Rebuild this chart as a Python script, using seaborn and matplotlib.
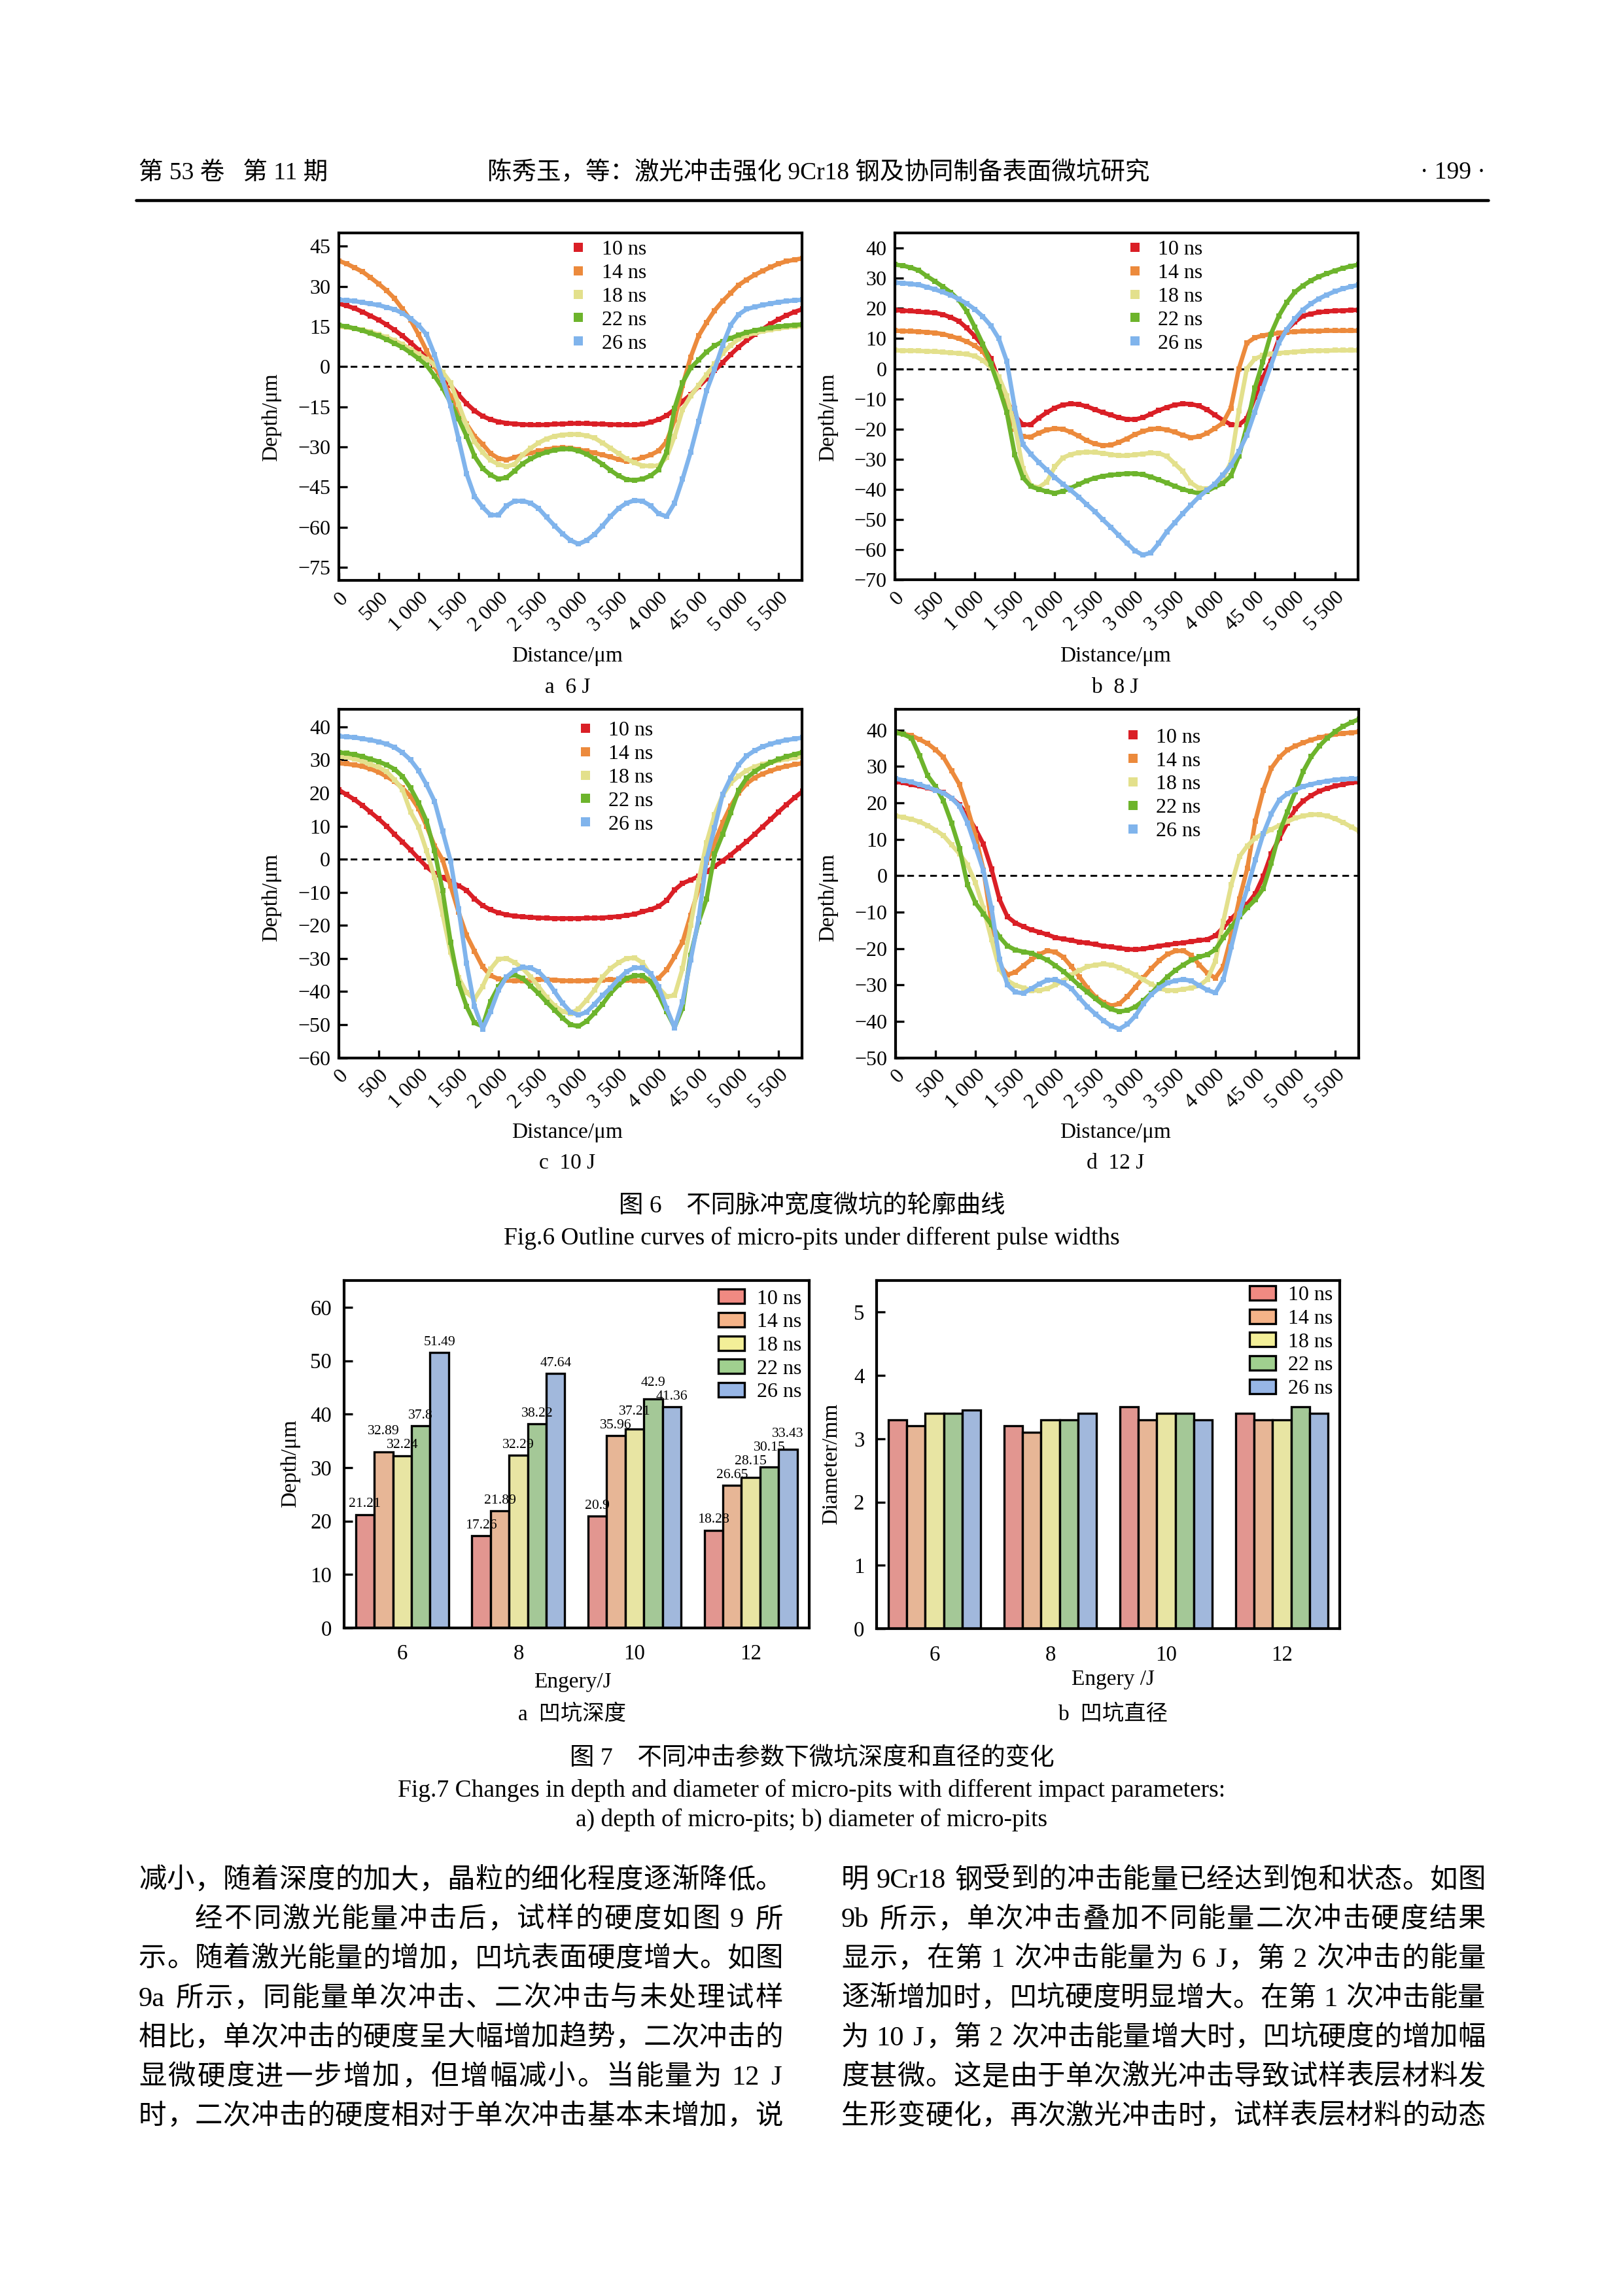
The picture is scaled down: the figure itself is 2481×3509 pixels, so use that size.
import re
import pandas as pd
import matplotlib
matplotlib.use("Agg")
import matplotlib.pyplot as plt
from matplotlib.lines import Line2D
from matplotlib.patches import Patch
import seaborn as sns

# ---------------------------------------------------------------- data
pulse_widths = ["10 ns", "14 ns", "18 ns", "22 ns", "26 ns"]
distance_um = list(range(0, 5801, 100))
distance_ticks = [0, 500, 1000, 1500, 2000, 2500, 3000, 3500, 4000, 4500, 5000, 5500]
distance_tick_labels = ["0", "500", "1 000", "1 500", "2 000", "2 500", "3 000",
                        "3 500", "4 000", "45 00", "5 000", "5 500"]

# Fig.6a  6 J
depth_6J_10ns = [23.6, 22.8, 21.8, 20.5, 19.0, 17.5, 15.7, 13.7, 11.5, 9.0, 6.3, 3.3, 0.2, -3.5, -7.0, -10.5, -13.8, -16.5, -18.5, -19.8, -20.6, -21.1, -21.4, -21.6, -21.8, -21.8, -21.7, -21.5, -21.4, -21.3, -21.2, -21.3, -21.4, -21.5, -21.6, -21.7, -21.8, -21.8, -21.5, -20.8, -19.8, -18.3, -16.0, -13.0, -10.5, -7.5, -4.5, -1.5, 1.5, 4.5, 7.3, 9.8, 12.0, 14.0, 16.0, 17.7, 19.2, 20.5, 21.5]
depth_6J_14ns = [39.6, 38.5, 37.0, 35.5, 33.3, 31.0, 28.5, 25.5, 21.5, 17.5, 12.0, 6.0, 0.0, -5.0, -11.0, -16.0, -21.5, -26.0, -29.0, -32.5, -34.3, -34.8, -34.0, -33.0, -32.3, -31.6, -31.0, -30.5, -30.3, -30.5, -31.0, -31.6, -32.3, -33.0, -33.8, -34.7, -35.4, -35.0, -34.0, -33.0, -31.5, -28.0, -20.0, -7.0, 3.5, 11.5, 16.5, 21.0, 24.5, 27.5, 30.5, 32.5, 34.3, 35.8, 37.2, 38.5, 39.4, 40.0, 40.5]
depth_6J_18ns = [15.0, 14.7, 14.3, 13.7, 13.0, 12.0, 11.0, 9.8, 8.3, 6.5, 4.7, 2.8, 0.8, -2.0, -6.0, -14.0, -22.0, -28.0, -32.0, -35.0, -36.5, -37.3, -36.5, -33.0, -30.5, -28.5, -27.0, -26.0, -25.5, -25.3, -25.3, -25.8, -26.7, -28.5, -30.5, -32.5, -34.5, -36.0, -37.0, -37.2, -37.0, -34.0, -26.0, -16.0, -11.0, -7.0, -3.0, 1.0, 5.0, 8.0, 10.3, 11.7, 12.6, 13.2, 13.8, 14.3, 14.7, 15.0, 15.2]
depth_6J_22ns = [15.5, 15.0, 14.3, 13.5, 12.5, 11.5, 10.2, 8.7, 7.2, 5.2, 3.0, 0.5, -3.5, -8.0, -13.5, -19.5, -26.0, -33.5, -38.0, -40.5, -42.0, -41.5, -39.0, -36.3, -34.5, -33.0, -32.0, -31.2, -30.8, -30.8, -31.5, -32.7, -34.5, -36.5, -38.8, -40.8, -42.2, -42.5, -42.0, -40.8, -38.5, -32.0, -15.5, -6.0, -0.5, 2.5, 5.5, 7.8, 9.4, 10.6, 11.8, 12.8, 13.5, 14.1, 14.6, 15.0, 15.3, 15.6, 15.8]
depth_6J_26ns = [25.0, 24.8, 24.5, 24.0, 23.5, 23.0, 22.2, 21.4, 20.0, 18.0, 15.5, 12.0, 4.5, -5.0, -14.5, -27.0, -40.0, -48.5, -52.5, -55.5, -55.5, -52.0, -50.3, -50.2, -51.0, -53.0, -56.3, -59.5, -62.5, -65.0, -66.3, -65.0, -62.7, -59.5, -56.0, -53.0, -51.0, -50.0, -50.3, -52.0, -55.0, -56.0, -51.0, -42.0, -32.0, -20.5, -9.0, -1.0, 8.0, 15.5, 19.5, 21.5, 22.3, 23.0, 23.6, 24.1, 24.5, 24.8, 25.0]

# Fig.6b  8 J
depth_8J_10ns = [19.4, 19.3, 19.1, 18.9, 18.7, 18.5, 18.0, 17.0, 15.8, 13.5, 10.8, 7.6, 3.3, -3.8, -10.5, -15.5, -18.5, -18.5, -16.3, -14.5, -13.0, -12.0, -11.6, -11.8, -12.5, -13.5, -14.5, -15.3, -16.2, -16.7, -16.8, -16.2, -15.0, -13.8, -12.8, -12.0, -11.6, -11.7, -12.3, -13.5, -15.3, -17.0, -18.5, -18.6, -16.5, -9.5, -3.0, 2.5, 9.8, 13.0, 15.5, 17.5, 18.2, 18.7, 19.0, 19.2, 19.3, 19.4, 19.5]
depth_8J_14ns = [12.6, 12.5, 12.4, 12.3, 12.1, 11.9, 11.5, 10.8, 10.0, 9.0, 7.6, 5.8, 1.5, -4.5, -13.0, -20.0, -22.5, -22.6, -21.3, -20.3, -19.8, -20.0, -21.0, -22.3, -23.8, -24.9, -25.4, -25.3, -24.4, -23.2, -21.8, -20.8, -20.0, -19.8, -20.2, -21.0, -22.0, -22.8, -22.5, -21.4, -19.8, -18.0, -13.0, 0.0, 8.5, 10.3, 11.0, 11.5, 11.8, 12.1, 12.3, 12.4, 12.5, 12.5, 12.6, 12.6, 12.6, 12.6, 12.6]
depth_8J_18ns = [6.1, 6.0, 6.0, 5.9, 5.8, 5.7, 5.5, 5.3, 5.1, 4.8, 4.2, 2.8, 0.5, -2.7, -9.0, -19.0, -33.0, -38.8, -39.3, -37.5, -32.5, -29.5, -28.4, -27.8, -27.6, -27.7, -28.0, -28.4, -28.8, -28.8, -28.5, -28.2, -27.9, -28.0, -29.0, -31.5, -34.0, -37.8, -39.5, -39.8, -39.2, -36.5, -31.0, -14.0, 0.0, 3.3, 4.4, 4.9, 5.2, 5.4, 5.6, 5.8, 5.9, 6.0, 6.0, 6.1, 6.1, 6.1, 6.1]
depth_8J_22ns = [34.5, 34.2, 33.5, 32.6, 30.7, 29.0, 27.2, 25.3, 22.8, 19.0, 13.8, 8.2, 1.6, -6.0, -14.5, -28.5, -36.0, -39.0, -39.9, -40.7, -41.2, -40.6, -39.5, -38.3, -37.1, -36.2, -35.6, -35.2, -35.0, -34.7, -34.7, -35.1, -35.8, -36.8, -37.8, -38.9, -39.9, -40.7, -41.3, -40.6, -39.2, -38.0, -35.5, -29.0, -19.0, -6.4, 2.3, 11.5, 17.5, 22.0, 25.4, 27.5, 29.2, 30.5, 31.5, 32.5, 33.3, 34.0, 34.5]
depth_8J_26ns = [28.5, 28.4, 28.1, 27.8, 27.1, 26.3, 25.4, 24.4, 23.1, 21.6, 19.7, 17.3, 14.3, 10.0, 2.5, -13.0, -25.0, -28.3, -31.0, -33.5, -36.0, -38.2, -40.3, -42.5, -45.0, -47.3, -50.0, -52.5, -55.2, -57.8, -60.3, -61.7, -61.0, -57.8, -54.0, -51.0, -48.0, -45.2, -42.5, -40.3, -38.2, -35.2, -32.0, -27.5, -22.0, -14.3, -6.5, 1.0, 8.5, 13.0, 16.5, 19.5, 21.5, 23.2, 24.5, 25.6, 26.5, 27.2, 27.8]

# Fig.6c  10 J
depth_10J_10ns = [21.0, 19.5, 18.0, 16.2, 14.2, 12.2, 10.0, 7.5, 5.2, 2.8, 0.2, -2.3, -4.3, -5.6, -6.8, -8.0, -9.4, -12.0, -14.0, -15.3, -16.2, -16.8, -17.2, -17.4, -17.6, -17.7, -17.8, -17.9, -17.9, -17.9, -17.9, -17.8, -17.8, -17.7, -17.5, -17.3, -17.0, -16.6, -15.9, -15.2, -14.3, -12.5, -9.3, -7.3, -6.3, -5.2, -3.8, -2.2, -0.5, 1.3, 3.3, 5.3, 7.5, 9.8, 12.0, 14.3, 16.5, 18.6, 20.5]
depth_10J_14ns = [29.0, 28.8, 28.5, 28.0, 27.3, 26.3, 25.0, 23.5, 21.5, 19.0, 15.3, 10.0, 4.0, -0.2, -8.0, -16.0, -23.0, -27.8, -32.5, -35.2, -36.2, -36.6, -36.8, -36.7, -36.5, -36.4, -36.4, -36.5, -36.7, -36.8, -36.8, -36.7, -36.6, -36.5, -36.4, -36.4, -36.5, -36.7, -36.8, -36.6, -36.0, -33.5, -29.5, -25.0, -17.0, -9.0, -1.0, 5.0, 11.0, 16.0, 20.0, 22.8, 24.6, 25.8, 26.7, 27.5, 28.1, 28.6, 29.0]
depth_10J_18ns = [31.0, 30.8, 30.3, 29.6, 28.6, 27.8, 26.5, 24.0, 21.0, 14.3, 9.8, 2.5, -5.5, -16.5, -28.0, -35.8, -40.3, -42.3, -38.5, -33.2, -30.2, -30.0, -31.2, -33.0, -35.5, -38.5, -41.7, -44.3, -46.0, -46.6, -45.3, -42.6, -39.5, -35.6, -33.0, -31.3, -30.0, -29.8, -31.3, -35.0, -38.8, -41.5, -41.2, -33.0, -20.0, -6.5, 5.0, 13.5, 19.3, 23.0, 25.1, 26.8, 27.9, 28.7, 29.3, 29.8, 30.2, 30.7, 31.1]
depth_10J_22ns = [32.3, 32.0, 31.6, 31.0, 30.2, 29.5, 28.5, 27.2, 25.0, 21.5, 17.0, 11.5, 2.5, -9.5, -25.0, -37.5, -44.5, -49.5, -50.5, -43.0, -38.5, -35.5, -35.0, -36.0, -38.3, -40.6, -43.2, -45.6, -48.0, -50.0, -50.5, -49.0, -46.5, -43.8, -40.5, -38.0, -36.0, -35.2, -35.2, -37.0, -41.0, -46.0, -50.8, -45.0, -29.0, -19.0, -12.0, 1.5, 7.5, 14.0, 20.8, 24.5, 26.5, 28.0, 29.2, 30.2, 31.0, 31.7, 32.3]
depth_10J_26ns = [37.1, 37.0, 36.8, 36.4, 36.0, 35.5, 34.8, 33.8, 32.2, 30.0, 26.8, 22.5, 17.5, 8.5, -0.5, -15.0, -31.5, -44.5, -51.3, -46.0, -39.5, -35.6, -33.6, -32.7, -32.9, -34.0, -36.5, -40.0, -43.5, -46.2, -47.1, -46.2, -43.8, -41.2, -38.9, -36.2, -34.0, -32.8, -32.9, -34.5, -38.5, -45.0, -51.0, -43.0, -30.5, -18.0, 0.0, 9.5, 19.5, 24.5, 28.5, 31.2, 32.8, 34.0, 34.8, 35.5, 36.0, 36.4, 36.7]

# Fig.6d  12 J
depth_12J_10ns = [25.8, 25.5, 25.0, 24.6, 24.1, 23.5, 22.8, 21.3, 19.5, 16.5, 12.8, 8.6, 1.8, -6.5, -11.3, -13.0, -14.0, -14.9, -15.5, -16.2, -17.0, -17.4, -17.8, -18.2, -18.5, -18.9, -19.3, -19.6, -19.9, -20.2, -20.3, -20.1, -19.7, -19.3, -19.0, -18.7, -18.4, -18.1, -17.8, -17.5, -16.5, -14.2, -11.8, -9.6, -7.8, -5.0, -0.2, 6.0, 10.3, 14.5, 18.3, 20.5, 22.0, 23.2, 24.0, 24.6, 25.1, 25.5, 25.8]
depth_12J_14ns = [39.3, 38.9, 38.5, 37.4, 36.3, 34.6, 32.5, 28.8, 25.0, 18.5, 11.0, 1.5, -13.0, -24.5, -27.2, -26.5, -24.7, -23.0, -21.6, -20.6, -21.0, -22.4, -25.0, -27.8, -30.8, -33.3, -34.8, -35.7, -35.2, -33.2, -30.6, -28.0, -25.5, -23.3, -21.6, -20.7, -20.6, -21.9, -24.5, -26.8, -28.1, -25.0, -16.5, -6.5, 2.0, 15.0, 23.5, 29.5, 32.5, 34.5, 35.6, 36.5, 37.3, 37.9, 38.4, 38.8, 39.1, 39.3, 39.5]
depth_12J_18ns = [16.4, 16.0, 15.5, 14.8, 13.8, 12.5, 11.0, 8.5, 6.0, 3.0, -2.0, -9.0, -17.5, -25.7, -28.8, -30.1, -30.8, -31.5, -31.5, -31.0, -30.0, -28.8, -27.2, -26.0, -25.0, -24.5, -24.3, -24.5, -25.2, -26.2, -27.3, -28.6, -29.8, -31.0, -31.5, -31.5, -31.2, -30.8, -30.2, -28.5, -23.5, -12.5, -2.5, 5.2, 8.2, 10.3, 11.6, 12.7, 13.8, 14.9, 15.8, 16.4, 16.8, 16.8, 16.4, 15.6, 14.6, 13.4, 12.2]
depth_12J_22ns = [39.3, 38.8, 37.8, 33.0, 27.5, 24.5, 20.5, 14.5, 7.5, -2.5, -7.5, -10.5, -13.5, -16.8, -19.3, -20.4, -20.9, -21.3, -22.2, -23.2, -24.7, -26.3, -28.2, -30.2, -32.0, -33.8, -35.5, -36.7, -37.3, -37.0, -36.0, -34.3, -32.3, -30.0, -27.8, -26.0, -24.5, -23.2, -22.3, -21.7, -20.3, -17.0, -14.0, -11.3, -8.8, -6.6, -3.5, 3.5, 11.8, 17.5, 23.0, 28.7, 32.7, 35.6, 37.8, 39.6, 41.0, 42.1, 43.0]
depth_12J_26ns = [26.6, 26.2, 25.7, 25.0, 24.3, 23.5, 22.7, 21.3, 19.1, 14.5, 8.0, 1.3, -9.0, -23.0, -30.0, -32.0, -32.3, -31.0, -29.7, -28.7, -28.6, -29.5, -31.0, -33.6, -36.0, -38.0, -39.8, -41.3, -42.1, -40.8, -38.5, -35.2, -32.6, -30.8, -29.5, -28.8, -28.5, -28.9, -30.2, -31.4, -32.2, -28.5, -19.5, -10.5, -3.5, 4.3, 11.5, 17.0, 20.8, 22.5, 23.6, 24.5, 25.1, 25.6, 26.0, 26.3, 26.5, 26.6, 26.6]

# Fig.7
energy_labels = ["6", "8", "10", "12"]
pit_depth_10ns = [21.21, 17.26, 20.9, 18.28]
pit_depth_14ns = [32.89, 21.89, 35.96, 26.65]
pit_depth_18ns = [32.24, 32.29, 37.21, 28.15]
pit_depth_22ns = [37.8, 38.22, 42.9, 30.15]
pit_depth_26ns = [51.49, 47.64, 41.36, 33.43]
pit_diam_10ns = [3.3, 3.2, 3.5, 3.4]
pit_diam_14ns = [3.2, 3.1, 3.3, 3.3]
pit_diam_18ns = [3.4, 3.3, 3.4, 3.3]
pit_diam_22ns = [3.4, 3.3, 3.4, 3.5]
pit_diam_26ns = [3.45, 3.4, 3.3, 3.4]

line_colors = ["#DA1F26", "#EC8A3C", "#E3E08C", "#6DB42C", "#80B4EC"]
bar_colors = ["#F08A82", "#F5B388", "#F3EF98", "#A0D08F", "#97B6E6"]

# ---------------------------------------------------------------- style
sns.set_style("ticks")
plt.rcParams["font.family"] = ["Liberation Serif", "Noto Sans CJK SC"]
plt.rcParams["axes.unicode_minus"] = True
for k in ["text.color", "axes.labelcolor", "xtick.color", "ytick.color", "axes.edgecolor"]:
    plt.rcParams[k] = "black"

W, H = 2481, 3509
fig = plt.figure(figsize=(W / 300, H / 300), dpi=300)
renderer = fig.canvas.get_renderer()


def rect(l, t, r, b):
    return [l / W, 1 - b / H, (r - l) / W, (b - t) / H]


def ftext(x, y, s, **kw):
    return fig.text(x / W, 1 - y / H, s, **kw)


def style_axes(ax):
    for sp in ax.spines.values():
        sp.set_visible(True)
        sp.set_linewidth(1.0)
        sp.set_color("black")


def minus_labels(vals):
    return [str(v).replace("-", "\u2212") for v in vals]


# ---------------------------------------------------------------- Fig.6 profiles
profile_panels = [
    (rect(517.5, 356, 1225.7, 887.3),
     [depth_6J_10ns, depth_6J_14ns, depth_6J_18ns, depth_6J_22ns, depth_6J_26ns],
     (-80, 50), [45, 30, 15, 0, -15, -30, -45, -60, -75], (0.50, 0.98)),
    (rect(1367.8, 356, 2076, 886.4),
     [depth_8J_10ns, depth_8J_14ns, depth_8J_18ns, depth_8J_22ns, depth_8J_26ns],
     (-70, 45), [40, 30, 20, 10, 0, -10, -20, -30, -40, -50, -60, -70], (0.50, 0.98)),
    (rect(517.5, 1084, 1225.7, 1616.5),
     [depth_10J_10ns, depth_10J_14ns, depth_10J_18ns, depth_10J_22ns, depth_10J_26ns],
     (-60, 45.3), [40, 30, 20, 10, 0, -10, -20, -30, -40, -50, -60], (0.515, 0.967)),
    (rect(1369, 1084, 2076.6, 1616.5),
     [depth_12J_10ns, depth_12J_14ns, depth_12J_18ns, depth_12J_22ns, depth_12J_26ns],
     (-50, 45.7), [40, 30, 20, 10, 0, -10, -20, -30, -40, -50], (0.495, 0.947)),
]

for pos, series, ylim, yticks, leg_anchor in profile_panels:
    ax = fig.add_axes(pos)
    rows = []
    for label, vals in zip(pulse_widths, series):
        for d, v in zip(distance_um, vals):
            rows.append({"Distance": d, "Depth": v, "Pulse": label})
    df = pd.DataFrame(rows)
    ax.axhline(0, color="black", lw=0.7, ls=(0, (3.5, 2.5)), zorder=1)
    sns.lineplot(data=df, x="Distance", y="Depth", hue="Pulse", hue_order=pulse_widths,
                 palette=dict(zip(pulse_widths, line_colors)), estimator=None, sort=False,
                 marker="s", markersize=2.0, markeredgewidth=0, linewidth=1.6,
                 legend=False, ax=ax, zorder=2)
    ax.set_xlim(0, 5790)
    ax.set_ylim(*ylim)
    ax.set_xticks(distance_ticks)
    ax.set_xticklabels(distance_tick_labels, rotation=45, ha="right", va="top",
                       rotation_mode="anchor")
    ax.set_yticks(yticks)
    ax.set_yticklabels(minus_labels(yticks))
    ax.tick_params(direction="in", length=3, width=0.8, labelsize=7.7, pad=3,
                   top=False, right=False)
    ax.set_xlabel("")
    ax.set_ylabel("")
    style_axes(ax)
    handles = [Line2D([], [], ls="none", marker="s", markersize=3.4, mec="none", mfc=c)
               for c in line_colors]
    ax.legend(handles, pulse_widths, loc="upper left", bbox_to_anchor=leg_anchor,
              frameon=False, fontsize=7.7, handlelength=0.8, handletextpad=0.7,
              labelspacing=0.2, borderpad=0, borderaxespad=0)

# axis labels and sub-captions (Fig.6)
for x, y in [(867, 1003), (1705, 1003), (867, 1731), (1705, 1731)]:
    ftext(x, y, "Distance/μm", fontsize=8, ha="center", va="center")
for x, y in [(415, 638), (1266, 638), (415, 1372), (1266, 1372)]:
    ftext(x, y, "Depth/μm", fontsize=8, ha="center", va="center", rotation=90)
for x, y, s in [(868, 1051, "a  6 J"), (1705, 1051, "b  8 J"),
                (867, 1778, "c  10 J"), (1705, 1778, "d  12 J")]:
    ftext(x, y, s, fontsize=8, ha="center", va="center")

# ---------------------------------------------------------------- Fig.7 bars
bar_panels = [
    (rect(526, 1957, 1236.5, 2488),
     [pit_depth_10ns, pit_depth_14ns, pit_depth_18ns, pit_depth_22ns, pit_depth_26ns],
     "Depth", (0, 65), [0, 10, 20, 30, 40, 50, 60], True, (0.985, 0.975)),
    (rect(1340, 1957, 2048, 2489),
     [pit_diam_10ns, pit_diam_14ns, pit_diam_18ns, pit_diam_22ns, pit_diam_26ns],
     "Diameter", (0, 5.5), [0, 1, 2, 3, 4, 5], False, (0.985, 0.985)),
]

LABEL_PAD = 1.5
for pos, series, col, ylim, yticks, show_vals, leg_anchor in bar_panels:
    ax = fig.add_axes(pos)
    rows = []
    for label, vals in zip(pulse_widths, series):
        for e, v in zip(energy_labels, vals):
            rows.append({"Energy": e, col: v, "Pulse": label})
    df = pd.DataFrame(rows)
    sns.barplot(data=df, x="Energy", y=col, hue="Pulse", order=energy_labels,
                hue_order=pulse_widths, palette=dict(zip(pulse_widths, bar_colors)),
                edgecolor="black", linewidth=0.8, width=0.8, errorbar=None,
                legend=False, ax=ax)
    ax.set_xlim(-0.5, 3.5)
    ax.set_ylim(*ylim)
    ax.set_yticks(yticks)
    ax.tick_params(axis="y", direction="in", length=3, width=0.8, labelsize=7.9, pad=4.5,
                   right=False)
    ax.tick_params(axis="x", length=0, labelsize=7.9, pad=6, top=False)
    ax.set_xlabel("")
    ax.set_ylabel("")
    style_axes(ax)
    if show_vals:
        ann_by_hue = []
        for cont, vals in zip(ax.containers, series):
            ann_by_hue.append(ax.bar_label(cont, labels=[f"{v:g}" for v in vals],
                                           padding=LABEL_PAD, fontsize=5.2))
        # lift the label of the taller bar when neighbouring labels collide
        for g in range(len(energy_labels)):
            anns = [ann_by_hue[h][g] for h in range(len(pulse_widths))]
            vals = [series[h][g] for h in range(len(pulse_widths))]
            for i in range(1, len(anns)):
                b_prev = anns[i - 1].get_window_extent(renderer)
                b_cur = anns[i].get_window_extent(renderer)
                if b_prev.overlaps(b_cur):
                    if vals[i] >= vals[i - 1]:
                        lift = (b_prev.y1 - b_cur.y0 + 2) * 72 / 300
                        ox, oy = anns[i].xyann
                        anns[i].xyann = (ox, oy + lift)
                    else:
                        lift = (b_cur.y1 - b_prev.y0 + 2) * 72 / 300
                        ox, oy = anns[i - 1].xyann
                        anns[i - 1].xyann = (ox, oy + lift)
    handles = [Patch(facecolor=c, edgecolor="black", linewidth=0.8) for c in bar_colors]
    ax.legend(handles, pulse_widths, loc="upper right", bbox_to_anchor=leg_anchor,
              frameon=False, fontsize=7.7, handlelength=1.25, handleheight=0.68,
              handletextpad=0.6, labelspacing=0.2, borderpad=0, borderaxespad=0)

ftext(444, 2237, "Depth/μm", fontsize=8, ha="center", va="center", rotation=90)
ftext(1271, 2237, "Diameter/mm", fontsize=8, ha="center", va="center", rotation=90)
ftext(875, 2571, "Engery/J", fontsize=8, ha="center", va="center")
ftext(1702, 2567, "Engery /J", fontsize=8, ha="center", va="center")
ftext(875, 2620, "a  凹坑深度", fontsize=8, ha="center", va="center")
ftext(1702, 2620, "b  凹坑直径", fontsize=8, ha="center", va="center")

# ---------------------------------------------------------------- page header / captions
ftext(212, 264, "第 53 卷   第 11 期", fontsize=9, ha="left", va="center")
ftext(745, 264, "陈秀玉，等：激光冲击强化 9Cr18 钢及协同制备表面微坑研究", fontsize=9,
      ha="left", va="center")
ftext(2271, 264, "· 199 ·", fontsize=9, ha="right", va="center")
fig.add_artist(Line2D([208 / W, 2275 / W], [1 - 306 / H, 1 - 306 / H], lw=1.1, color="black"))

ftext(1241, 1843, "图 6    不同脉冲宽度微坑的轮廓曲线", fontsize=9, ha="center", va="center")
ftext(1241, 1892, "Fig.6 Outline curves of micro-pits under different pulse widths",
      fontsize=9, ha="center", va="center")
ftext(1241, 2687, "图 7    不同冲击参数下微坑深度和直径的变化", fontsize=9, ha="center", va="center")
ftext(1241, 2736, "Fig.7 Changes in depth and diameter of micro-pits with different impact parameters:",
      fontsize=9, ha="center", va="center")
ftext(1241, 2781, "a) depth of micro-pits; b) diameter of micro-pits", fontsize=9,
      ha="center", va="center")

# ---------------------------------------------------------------- body text
body_left = [
    "减小，随着深度的加大，晶粒的细化程度逐渐降低。",
    "经不同激光能量冲击后，试样的硬度如图 9 所",
    "示。随着激光能量的增加，凹坑表面硬度增大。如图",
    "9a 所示，同能量单次冲击、二次冲击与未处理试样",
    "相比，单次冲击的硬度呈大幅增加趋势，二次冲击的",
    "显微硬度进一步增加，但增幅减小。当能量为 12 J",
    "时，二次冲击的硬度相对于单次冲击基本未增加，说",
]
body_right = [
    "明 9Cr18 钢受到的冲击能量已经达到饱和状态。如图",
    "9b 所示，单次冲击叠加不同能量二次冲击硬度结果",
    "显示，在第 1 次冲击能量为 6 J，第 2 次冲击的能量",
    "逐渐增加时，凹坑硬度明显增大。在第 1 次冲击能量",
    "为 10 J，第 2 次冲击能量增大时，凹坑硬度的增加幅",
    "度甚微。这是由于单次激光冲击导致试样表层材料发",
    "生形变硬化，再次激光冲击时，试样表层材料的动态",
]

BODY_FS = 10.2


def justify_line(text, x0, x1, yc):
    em = BODY_FS / 72 * 300
    yb = yc + 0.36 * em
    items = []
    for m in re.finditer(r"[A-Za-z0-9.]+| +|.", text):
        s = m.group(0)
        if s.isspace():
            items.append((None, 0.25 * em))
            continue
        t = ftext(0, yb, s, fontsize=BODY_FS, ha="left", va="baseline")
        if re.match(r"[A-Za-z0-9.]", s):
            w = t.get_window_extent(renderer).width + 0.06 * em
        else:
            w = em
        items.append((t, w))
    natural = sum(w for _, w in items)
    gap = (x1 - x0 - natural) / max(len(items) - 1, 1)
    x = x0
    for t, w in items:
        if t is not None:
            t.set_x(x / W)
        x += w + gap


for i, line in enumerate(body_left):
    x0 = 212 + (2 * 42.8 if i == 1 else 0)
    justify_line(line, x0, 1197, 2870 + i * 60.1)
for i, line in enumerate(body_right):
    justify_line(line, 1286, 2271, 2870 + i * 60.1)

fig.savefig("out.png", dpi=300)
